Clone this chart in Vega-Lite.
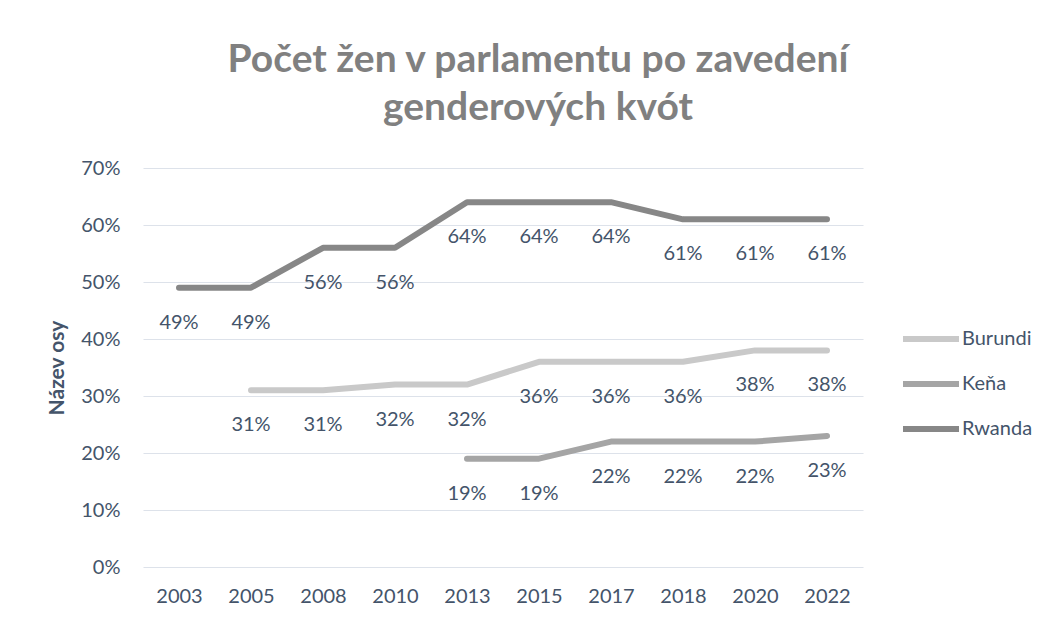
{
  "$schema": "https://vega.github.io/schema/vega-lite/v6.json",
  "width": 720,
  "height": 399,
  "autosize": {"type": "none"},
  "padding": {"left": 143, "top": 168, "right": 190, "bottom": 54},
  "background": "white",
  "title": {
    "text": ["Počet žen v parlamentu po zavedení", "genderových kvót"],
    "font": "Lato",
    "fontSize": 39,
    "fontWeight": "bold",
    "color": "#808080",
    "lineHeight": 48,
    "anchor": "middle",
    "frame": "group",
    "dx": 35,
    "offset": 30
  },
  "data": {
    "values": [
      {"year": "2003", "country": "Rwanda", "value": 0.49},
      {"year": "2005", "country": "Rwanda", "value": 0.49},
      {"year": "2008", "country": "Rwanda", "value": 0.56},
      {"year": "2010", "country": "Rwanda", "value": 0.56},
      {"year": "2013", "country": "Rwanda", "value": 0.64},
      {"year": "2015", "country": "Rwanda", "value": 0.64},
      {"year": "2017", "country": "Rwanda", "value": 0.64},
      {"year": "2018", "country": "Rwanda", "value": 0.61},
      {"year": "2020", "country": "Rwanda", "value": 0.61},
      {"year": "2022", "country": "Rwanda", "value": 0.61},
      {"year": "2005", "country": "Burundi", "value": 0.31},
      {"year": "2008", "country": "Burundi", "value": 0.31},
      {"year": "2010", "country": "Burundi", "value": 0.32},
      {"year": "2013", "country": "Burundi", "value": 0.32},
      {"year": "2015", "country": "Burundi", "value": 0.36},
      {"year": "2017", "country": "Burundi", "value": 0.36},
      {"year": "2018", "country": "Burundi", "value": 0.36},
      {"year": "2020", "country": "Burundi", "value": 0.38},
      {"year": "2022", "country": "Burundi", "value": 0.38},
      {"year": "2013", "country": "Keňa", "value": 0.19},
      {"year": "2015", "country": "Keňa", "value": 0.19},
      {"year": "2017", "country": "Keňa", "value": 0.22},
      {"year": "2018", "country": "Keňa", "value": 0.22},
      {"year": "2020", "country": "Keňa", "value": 0.22},
      {"year": "2022", "country": "Keňa", "value": 0.23}
    ]
  },
  "encoding": {
    "x": {
      "field": "year",
      "type": "ordinal",
      "sort": ["2003", "2005", "2008", "2010", "2013", "2015", "2017", "2018", "2020", "2022"],
      "scale": {"type": "point", "padding": 0.5},
      "axis": {
        "title": null,
        "labelAngle": 0,
        "labelFont": "Lato",
        "labelFontSize": 20,
        "labelColor": "#44546a",
        "labelPadding": 19,
        "ticks": false,
        "domain": false,
        "grid": false
      }
    },
    "y": {
      "field": "value",
      "type": "quantitative",
      "scale": {"domain": [0, 0.7], "nice": false},
      "axis": {
        "title": "Název osy",
        "titleFont": "Lato",
        "titleFontSize": 21,
        "titleFontWeight": "bold",
        "titleColor": "#44546a",
        "titlePadding": 13,
        "values": [0, 0.1, 0.2, 0.3, 0.4, 0.5, 0.6, 0.7],
        "format": ".0%",
        "labelFont": "Lato",
        "labelFontSize": 20,
        "labelColor": "#44546a",
        "labelPadding": 23,
        "ticks": false,
        "domain": false,
        "grid": true,
        "gridColor": "#dde2ea",
        "gridWidth": 1.2
      }
    }
  },
  "layer": [
    {
      "mark": {"type": "line", "strokeWidth": 6, "strokeCap": "round", "strokeJoin": "round"},
      "encoding": {
        "color": {
          "field": "country",
          "type": "nominal",
          "scale": {"domain": ["Burundi", "Keňa", "Rwanda"], "range": ["#c9c9c9", "#a5a5a5", "#878787"]},
          "legend": {
            "title": null,
            "orient": "none",
            "legendX": 757,
            "legendY": 140,
            "symbolType": "stroke",
            "symbolSize": 3136,
            "symbolStrokeWidth": 6,
            "labelFont": "Lato",
            "labelFontSize": 20,
            "labelColor": "#44546a",
            "labelOffset": 0,
            "rowPadding": 2
          }
        }
      }
    },
    {
      "mark": {"type": "text", "dy": 35, "baseline": "middle", "font": "Lato", "fontSize": 20, "color": "#44546a"},
      "encoding": {
        "text": {"field": "value", "type": "quantitative", "format": ".0%"},
        "detail": {"field": "country", "type": "nominal"}
      }
    }
  ],
  "config": {"view": {"stroke": null}}
}
